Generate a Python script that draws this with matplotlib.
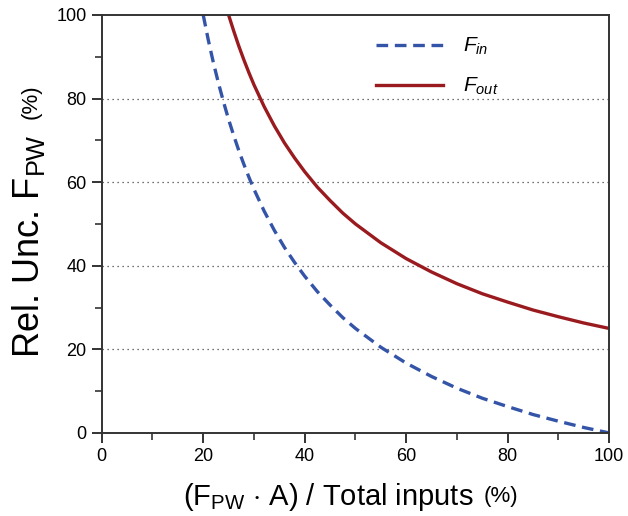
import matplotlib
matplotlib.use('Agg')
import matplotlib.pyplot as plt

# values
x_in = [20, 21, 22, 23, 24, 25, 26, 27, 28, 29, 30, 32, 34, 36, 38, 40, 42.5, 45, 47.5,
        50, 55, 60, 65, 70, 75, 80, 85, 90, 95, 100]
f_in = [100, 94.0, 88.6, 83.7, 79.2, 75, 71.2, 67.6, 64.3, 61.2, 58.3, 53.1, 48.5, 44.4, 40.8,
        37.5, 33.8, 30.6, 27.6, 25, 20.5, 16.7, 13.5, 10.7, 8.3, 6.3, 4.4, 2.8, 1.3, 0]

x_out = [25, 26, 27, 28, 29, 30, 32, 34, 36, 38, 40, 42.5, 45, 47.5, 50, 55, 60, 65, 70,
         75, 80, 85, 90, 95, 100]
f_out = [100, 96.2, 92.6, 89.3, 86.2, 83.3, 78.1, 73.5, 69.4, 65.8, 62.5, 58.8, 55.6, 52.6,
         50, 45.5, 41.7, 38.5, 35.7, 33.3, 31.3, 29.4, 27.8, 26.3, 25]

grid_y = [20, 40, 60, 80]

plt.rcParams['font.family'] = ['Liberation Sans', 'DejaVu Sans']
plt.rcParams['mathtext.fontset'] = 'custom'
plt.rcParams['mathtext.rm'] = 'Liberation Sans'
plt.rcParams['mathtext.it'] = 'Liberation Sans:italic'

fig = plt.figure(figsize=(6.28, 5.16), dpi=100)
ax = fig.add_axes([0.162, 0.161, 0.808, 0.81])

for g in grid_y:
    ax.axhline(g, color='#444444', lw=0.9, ls=(0, (1, 3)), zorder=0)

ax.plot(x_in, f_in, color='#3454a8', lw=2.4, ls=(0, (3.5, 2.0)), label='$F_{in}$')
ax.plot(x_out, f_out, color='#9a1b1f', lw=2.4, label='$F_{out}$')

ax.set_xlim(0, 100)
ax.set_ylim(0, 100)
ax.set_xticks([0, 20, 40, 60, 80, 100])
ax.set_yticks([0, 20, 40, 60, 80, 100])
ax.set_xticks([10, 30, 50, 70, 90], minor=True)
ax.set_yticks([10, 30, 50, 70, 90], minor=True)
ax.tick_params(which='major', direction='out', length=7, width=1.4, labelsize=13, color='#333333', pad=4)
ax.tick_params(which='minor', direction='out', length=5, width=1.2, color='#333333')
for s in ax.spines.values():
    s.set_linewidth(1.4)
    s.set_color('#333333')

leg = ax.legend(loc='upper right', bbox_to_anchor=(0.82, 0.995), frameon=False, fontsize=15,
                handlelength=3.2, handletextpad=1.0, labelspacing=0.9)

# axis labels with smaller "(%)"
fig.text(0.046, 0.523, 'Rel. Unc. F$_{\\mathrm{PW}}$', rotation=90, fontsize=26,
         ha='center', va='center')
fig.text(0.05, 0.803, '(%)', rotation=90, fontsize=16, ha='center', va='center')
fig.text(0.522, 0.037, '(F$_{\\mathrm{PW}}$ $\\cdot$ A) / Total inputs', fontsize=21,
         ha='center', va='center')
fig.text(0.797, 0.037, '(%)', fontsize=16, ha='center', va='center')

fig.savefig('out.png', dpi=100)
